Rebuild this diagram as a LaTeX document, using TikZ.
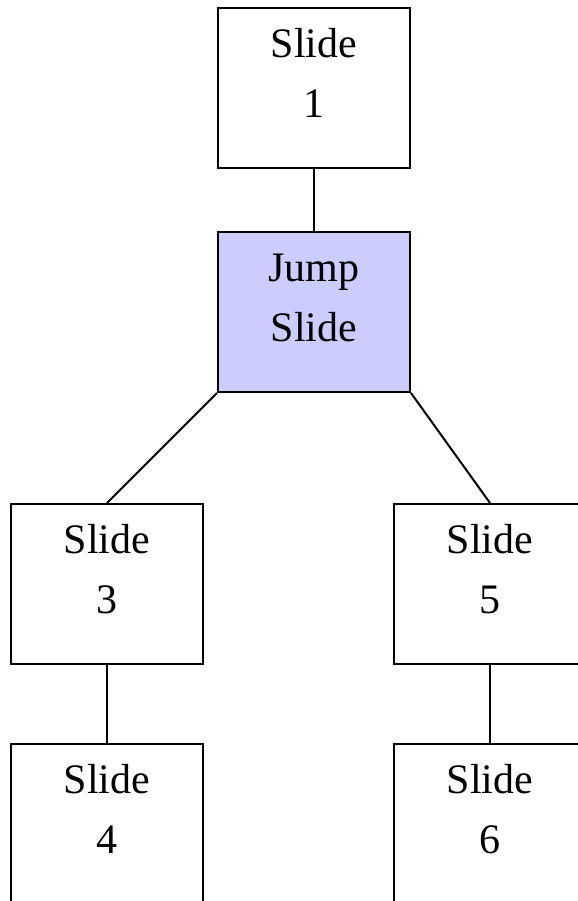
\documentclass[tikz,border=0pt]{standalone}
\usepackage{fontspec}
\setmainfont{Liberation Serif}
\usetikzlibrary{positioning}
\definecolor{jumpblue}{HTML}{CCCCFF}

\begin{document}
\begin{tikzpicture}[
	slidebox/.style={draw, line width=1pt, minimum width=96pt, inner sep=0pt,
		align=center, font=\fontsize{21}{30}\selectfont,
		text height=54.5pt, text depth=25.5pt},
	jumpbox/.style={slidebox, fill=jumpblue}]
	\useasboundingbox (0,0) rectangle (289pt,-450.5pt);
	\node[slidebox] (s1) at (157pt,-44pt) {Slide\\1};
	\node[jumpbox, below=31pt of s1] (jump) {Jump\\Slide};
	\node[slidebox, below=55pt of jump, xshift=-103.5pt] (s3) {Slide\\3};
	\node[slidebox, below=55pt of jump, xshift=88pt] (s5) {Slide\\5};
	\node[slidebox, below=39pt of s3] (s4) {Slide\\4};
	\node[slidebox, below=39pt of s5] (s6) {Slide\\6};
	
	\draw[line width=1pt] (s1) -- (jump);
	\draw[line width=1pt] (jump.south west) -- (s3.north);
	\draw[line width=1pt] (jump.south east) -- (s5.north);
	\draw[line width=1pt] (s3) -- (s4);
	\draw[line width=1pt] (s5) -- (s6);
\end{tikzpicture}
\end{document}
